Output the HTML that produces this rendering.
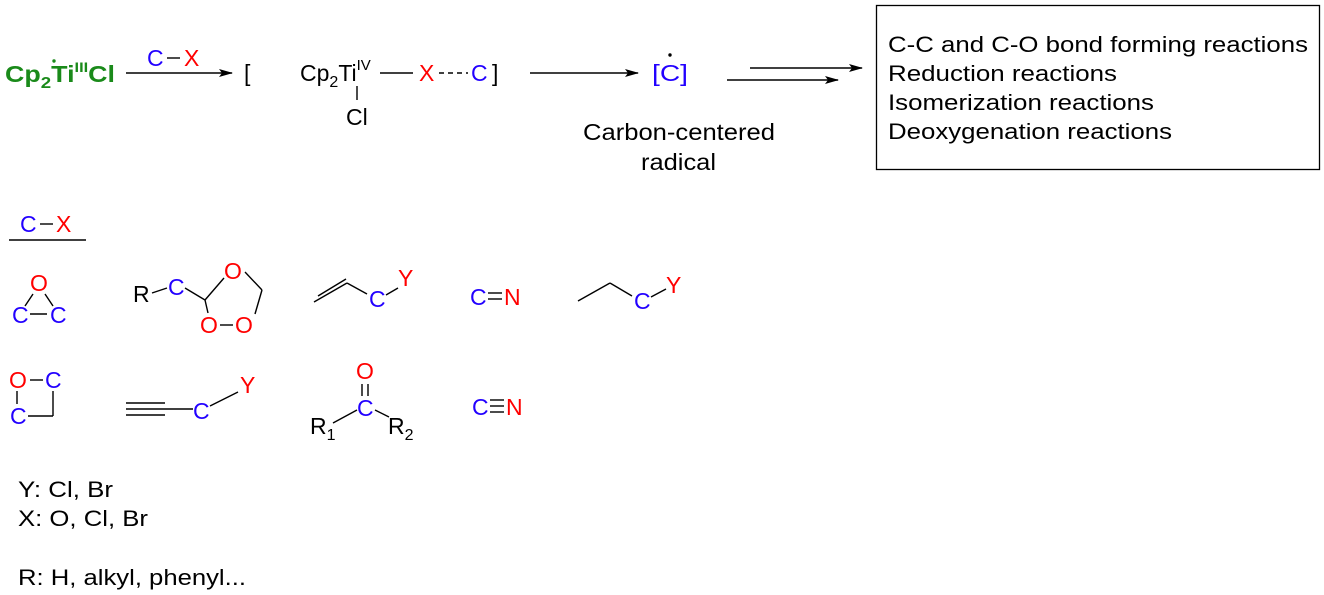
<!DOCTYPE html>
<html><head><meta charset="utf-8"><style>
html,body{margin:0;padding:0;background:#fff;}
svg{display:block;font-family:"Liberation Sans",Arial,sans-serif;}
.b{fill:#2200ff}.r{fill:#ff0000}.k{fill:#000}
line,polyline,path{stroke:#000;stroke-width:1.4;fill:none}
</style></head><body>
<svg width="1324" height="595" viewBox="0 0 1324 595" xmlns="http://www.w3.org/2000/svg">
<defs><marker id="ah" markerWidth="14" markerHeight="8" refX="13" refY="4" orient="auto" markerUnits="userSpaceOnUse"><path d="M0,0 L14,4 L0,8 L3,4 Z" style="fill:#000;stroke:none"/></marker></defs>
<!-- top row -->
<text x="5" y="82" font-size="23" font-weight="bold" fill="#1a8a1a" textLength="110" lengthAdjust="spacingAndGlyphs">Cp<tspan font-size="16" dy="6">2</tspan><tspan dy="-6">Ti</tspan><tspan font-size="14" dy="-10">III</tspan><tspan dy="10">Cl</tspan></text>
<circle cx="54" cy="61" r="1.7" fill="#1a8a1a"/>
<line x1="126" y1="73" x2="232" y2="73" marker-end="url(#ah)"/>
<text x="147" y="66" font-size="23" class="b">C</text><line x1="167" y1="58" x2="180" y2="58"/><text x="184" y="66" font-size="23" class="r">X</text>
<text x="244" y="81" font-size="23" class="k">[</text>
<text x="300" y="81" font-size="23" class="k">Cp<tspan font-size="16" dy="6">2</tspan><tspan dy="-6">Ti</tspan><tspan font-size="15" dy="-11">IV</tspan></text>
<line x1="380" y1="73" x2="413" y2="73"/>
<text x="419" y="81" font-size="23" class="r">X</text>
<line x1="439" y1="73" x2="468" y2="73" stroke-dasharray="5,4"/>
<text x="471" y="81" font-size="23" class="b">C</text>
<text x="492" y="81" font-size="23" class="k">]</text>
<line x1="357" y1="86" x2="357" y2="100"/>
<text x="346" y="125" font-size="23" class="k">Cl</text>
<line x1="530" y1="73" x2="638" y2="73" marker-end="url(#ah)"/>
<text x="652" y="81" font-size="23" class="b" textLength="36" lengthAdjust="spacingAndGlyphs">[C]</text>
<circle cx="670" cy="55" r="1.7" fill="#000"/>
<line x1="750" y1="68" x2="862" y2="68" marker-end="url(#ah)"/>
<line x1="727" y1="80" x2="838" y2="80" marker-end="url(#ah)"/>
<text x="583" y="140" font-size="23" class="k" textLength="192" lengthAdjust="spacingAndGlyphs">Carbon-centered</text>
<text x="641" y="170" font-size="23" class="k" textLength="75" lengthAdjust="spacingAndGlyphs">radical</text>
<rect x="876.5" y="5.5" width="443" height="164" style="fill:none;stroke:#000;stroke-width:1.3"/>
<text x="888" y="52" font-size="22" class="k" textLength="420" lengthAdjust="spacingAndGlyphs">C-C and C-O bond forming reactions</text>
<text x="888" y="81" font-size="22" class="k" textLength="229" lengthAdjust="spacingAndGlyphs">Reduction reactions</text>
<text x="888" y="110" font-size="22" class="k" textLength="266" lengthAdjust="spacingAndGlyphs">Isomerization reactions</text>
<text x="888" y="139" font-size="22" class="k" textLength="284" lengthAdjust="spacingAndGlyphs">Deoxygenation reactions</text>
<!-- C-X header -->
<text x="20" y="232" font-size="23" class="b">C</text><line x1="40" y1="224" x2="53" y2="224"/><text x="56" y="232" font-size="23" class="r">X</text>
<line x1="9" y1="240" x2="86" y2="240"/>
<!-- epoxide -->
<text x="30" y="291" font-size="23" class="r">O</text>
<text x="12" y="323" font-size="23" class="b">C</text>
<text x="50" y="323" font-size="23" class="b">C</text>
<line x1="33" y1="294" x2="25" y2="306"/><line x1="45" y1="294" x2="53" y2="306"/><line x1="30" y1="314" x2="47" y2="314"/>
<!-- R-C dioxolane -->
<text x="133" y="302" font-size="23" class="k">R</text>
<line x1="152" y1="293" x2="167" y2="288"/>
<text x="168" y="295" font-size="23" class="b">C</text>
<line x1="185" y1="288" x2="205" y2="300"/>
<line x1="205" y1="300" x2="224" y2="278"/>
<text x="224" y="279" font-size="23" class="r">O</text>
<line x1="245" y1="272" x2="262" y2="290"/>
<line x1="262" y1="290" x2="255" y2="314"/>
<line x1="205" y1="300" x2="208" y2="313"/>
<text x="200" y="333" font-size="23" class="r">O</text>
<line x1="220" y1="325" x2="233" y2="325"/>
<text x="235" y="333" font-size="23" class="r">O</text>
<!-- allyl -->
<line x1="314" y1="302" x2="347" y2="283"/><line x1="318" y1="296" x2="346" y2="279"/>
<line x1="347" y1="283" x2="367" y2="294"/>
<text x="369" y="307" font-size="23" class="b">C</text>
<line x1="386" y1="295" x2="398" y2="288"/>
<text x="398" y="286" font-size="23" class="r">Y</text>
<!-- C=N -->
<text x="470" y="305" font-size="23" class="b">C</text>
<line x1="488" y1="293" x2="502" y2="293"/><line x1="488" y1="299" x2="502" y2="299"/>
<text x="504" y="305" font-size="23" class="r">N</text>
<!-- propyl -->
<line x1="578" y1="301" x2="610" y2="283"/><line x1="610" y1="283" x2="632" y2="296"/>
<text x="634" y="309" font-size="23" class="b">C</text>
<line x1="651" y1="297" x2="666" y2="289"/>
<text x="666" y="293" font-size="23" class="r">Y</text>
<!-- oxetane -->
<text x="9" y="388" font-size="23" class="r">O</text>
<line x1="30" y1="380" x2="43" y2="380"/>
<text x="45" y="388" font-size="23" class="b">C</text>
<line x1="17" y1="391" x2="17" y2="404"/>
<line x1="53" y1="391" x2="53" y2="416"/>
<text x="10" y="424" font-size="23" class="b">C</text>
<line x1="28" y1="416" x2="53" y2="416"/>
<!-- alkyne -->
<line x1="126" y1="403" x2="165" y2="403"/><line x1="126" y1="409" x2="193" y2="409"/><line x1="126" y1="415" x2="165" y2="415"/>
<text x="193" y="419" font-size="23" class="b">C</text>
<line x1="210" y1="406" x2="238" y2="392"/>
<text x="240" y="393" font-size="23" class="r">Y</text>
<!-- ketone -->
<text x="356" y="379" font-size="23" class="r">O</text>
<line x1="362" y1="384" x2="362" y2="396"/><line x1="368" y1="384" x2="368" y2="396"/>
<text x="357" y="416" font-size="23" class="b">C</text>
<line x1="333" y1="423" x2="357" y2="410"/><line x1="375" y1="410" x2="389" y2="417"/>
<text x="310" y="434" font-size="23" class="k">R<tspan font-size="16" dy="6">1</tspan></text>
<text x="388" y="434" font-size="23" class="k">R<tspan font-size="16" dy="6">2</tspan></text>
<!-- C≡N -->
<text x="472" y="415" font-size="23" class="b">C</text>
<line x1="490" y1="400" x2="504" y2="400"/><line x1="490" y1="406" x2="504" y2="406"/><line x1="490" y1="412" x2="504" y2="412"/>
<text x="506" y="415" font-size="23" class="r">N</text>
<!-- legend -->
<text x="18" y="497" font-size="22" class="k" textLength="95" lengthAdjust="spacingAndGlyphs">Y: Cl, Br</text>
<text x="18" y="526" font-size="22" class="k" textLength="130" lengthAdjust="spacingAndGlyphs">X: O, Cl, Br</text>
<text x="18" y="585" font-size="22" class="k" textLength="228" lengthAdjust="spacingAndGlyphs">R: H, alkyl, phenyl...</text>
</svg>
</body></html>
